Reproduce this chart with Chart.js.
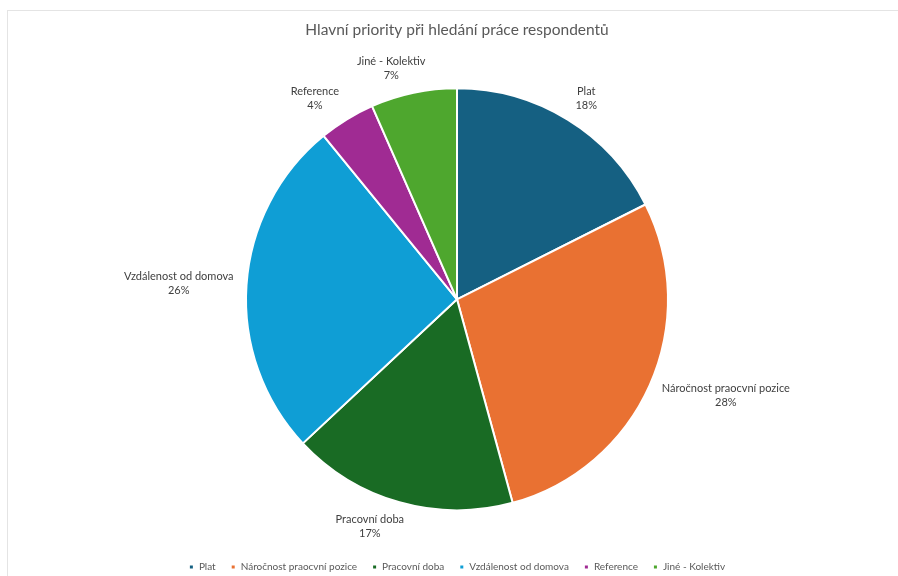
<!DOCTYPE html>
<html>
<head>
<meta charset="utf-8">
<script src="https://cdn.jsdelivr.net/npm/chart.js@4.4.1/dist/chart.umd.min.js"></script>
<style>
  html, body { margin: 0; padding: 0; background: #fff; overflow: hidden; width: 898px; height: 576px; }
  #frame { position: absolute; left: 7px; top: 10px; width: 900px; height: 600px; border-left: 1px solid #e4e4e4; border-top: 1px solid #e4e4e4; }
  #wrap { position: absolute; left: 0; top: 0; width: 890px; height: 581px; }
</style>
</head>
<body>
<div id="frame"><div id="wrap"><canvas id="c"></canvas></div></div>
<script>
const categories = ['Plat', 'Náročnost praocvní pozice', 'Pracovní doba', 'Vzdálenost od domova', 'Reference', 'Jiné - Kolektiv'];
const shares = [17.6, 28.2, 17.3, 26.1, 4.3, 6.6];
const sliceColors = ['#156082', '#E97132', '#196B24', '#0F9ED5', '#A02B93', '#4EA72E'];
const chartTitle = 'Hlavní priority při hledání práce respondentů';

const FONT = "Lato, 'Open Sans', sans-serif";

const outsideLabels = {
  id: 'outsideLabels',
  afterDatasetsDraw(chart) {
    const ctx = chart.ctx;
    const meta = chart.getDatasetMeta(0);
    const data = chart.data.datasets[0].data;
    const total = data.reduce((a, b) => a + b, 0);
    ctx.save();
    ctx.font = "11px " + FONT;
    ctx.fillStyle = '#404040';
    ctx.textAlign = 'center';
    ctx.textBaseline = 'middle';
    const lh = 14;
    meta.data.forEach((arc, i) => {
      const p = arc.getProps(['x', 'y', 'startAngle', 'endAngle', 'outerRadius'], true);
      const a = (p.startAngle + p.endAngle) / 2;
      const dx = Math.cos(a), dy = Math.sin(a);
      const ax = p.x + (p.outerRadius + 11) * dx;
      const ay = p.y + (p.outerRadius + 11) * dy;
      const line1 = chart.data.labels[i];
      const line2 = Math.round(data[i] / total * 100) + '%';
      const w = Math.max(ctx.measureText(line1).width, ctx.measureText(line2).width);
      const h = lh * 2;
      const f = Math.max(-1, Math.min(1, dx * 2.7));
      const cx = ax + (w / 2 + 2) * f;
      const cy = ay + (h / 2) * dy;
      ctx.fillText(line1, cx, cy - lh / 2);
      ctx.fillText(line2, cx, cy + lh / 2);
    });
    ctx.restore();
  }
};

new Chart(document.getElementById('c'), {
  type: 'pie',
  data: {
    labels: categories,
    datasets: [{
      data: shares,
      backgroundColor: sliceColors,
      borderColor: '#ffffff',
      borderWidth: 2,
      radius: 211
    }]
  },
  options: {
    responsive: true,
    maintainAspectRatio: false,
    animation: false,
    layout: { padding: { left: 8, right: 0, top: 0, bottom: 10 } },
    plugins: {
      title: {
        display: true,
        text: chartTitle,
        color: '#595959',
        font: { family: FONT, size: 15.5, weight: 'normal' },
        padding: { top: 10, bottom: 12 }
      },
      legend: {
        position: 'bottom',
        labels: {
          color: '#595959',
          font: { family: FONT, size: 10 },
          usePointStyle: true,
          pointStyle: 'rect',
          boxWidth: 5,
          boxHeight: 5,
          padding: 15
        }
      },
      tooltip: { enabled: false }
    }
  },
  plugins: [outsideLabels]
});
</script>
</body>
</html>
